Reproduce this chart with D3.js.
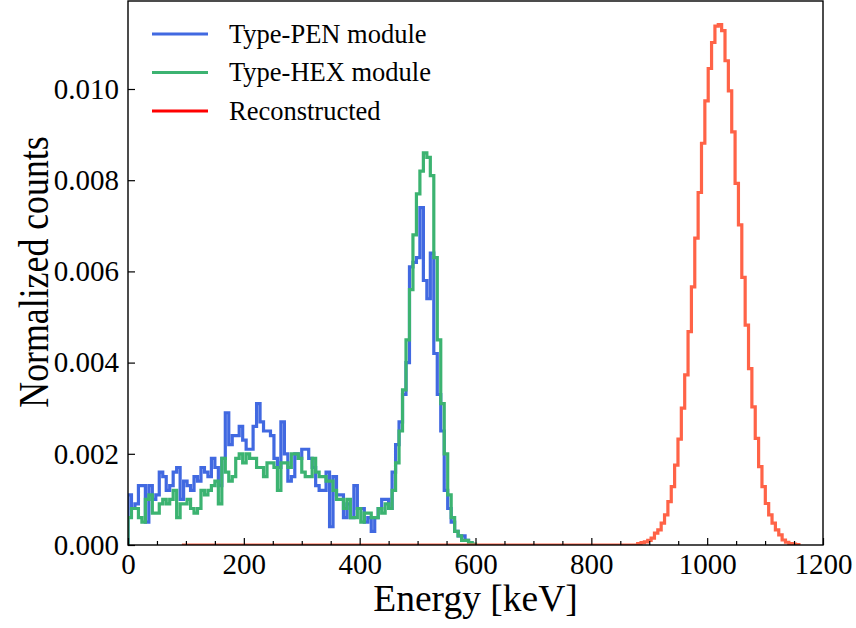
<!DOCTYPE html>
<html>
<head>
<meta charset="utf-8">
<script src="https://cdn.jsdelivr.net/npm/d3@7"></script>
<style>
  body { margin: 0; background: #fff; }
  svg { display: block; font-family: "Liberation Serif", "Times New Roman", serif; }
</style>
</head>
<body>
<svg width="856" height="628"></svg>
<script>
// histogram settings (keV)
const moduleBinWidth = 6;
const recoLow = 93;
const recoStart = 880;
const recoBinWidth = 5.8;

// Type-PEN module, bins 0..600 keV
const penCounts = [
  0.0011, 0.0008, 0.0009, 0.0013, 0.0013, 0.0005, 0.0013, 0.0010, 0.0011, 0.0016,
  0.0015, 0.0012, 0.0013, 0.0016, 0.0017, 0.0010, 0.0014, 0.0013, 0.0012, 0.0015,
  0.0014, 0.0017, 0.0016, 0.0015, 0.0019, 0.0017, 0.0013, 0.0019, 0.0029, 0.0022,
  0.0024, 0.0024, 0.0026, 0.0023, 0.0021, 0.0021, 0.0026, 0.0031, 0.0027, 0.0025,
  0.0025, 0.0024, 0.0019, 0.0017, 0.0027, 0.0020, 0.0014, 0.0015, 0.0020, 0.0019,
  0.0021, 0.0021, 0.0019, 0.0017, 0.0013, 0.0012, 0.0012, 0.0016, 0.0004, 0.0015,
  0.0011, 0.0011, 0.0006, 0.0009, 0.0006, 0.0013, 0.0008, 0.0008, 0.0005, 0.0006,
  0.0003, 0.0006, 0.0008, 0.0010, 0.0010, 0.0008, 0.0016, 0.0022, 0.0027, 0.0033,
  0.0040, 0.0061, 0.0062, 0.0063, 0.0074, 0.0058, 0.0054, 0.0064, 0.0042, 0.0033,
  0.0025, 0.0012, 0.0008, 0.0005, 0.0003, 0.0002, 0.0002, 0.0001, 0.00005, 0
];

// Type-HEX module, bins 0..600 keV
const hexCounts = [
  0.0006, 0.0008, 0.0008, 0.0006, 0.0005, 0.0010, 0.0011, 0.0007, 0.0007, 0.0009,
  0.0010, 0.0009, 0.0010, 0.0012, 0.0006, 0.0009, 0.0009, 0.0010, 0.0008, 0.0007,
  0.0008, 0.0012, 0.0011, 0.0012, 0.0013, 0.0014, 0.0009, 0.0019, 0.0016, 0.0014,
  0.0015, 0.0019, 0.0020, 0.0018, 0.0020, 0.0019, 0.0019, 0.0017, 0.0017, 0.0015,
  0.0018, 0.0018, 0.0017, 0.0012, 0.0018, 0.0018, 0.0017, 0.0020, 0.0020, 0.0019,
  0.0016, 0.0015, 0.0015, 0.0019, 0.0016, 0.0015, 0.0015, 0.0014, 0.0014, 0.0012,
  0.0010, 0.0010, 0.0008, 0.0010, 0.0006, 0.0006, 0.0008, 0.0005, 0.0007, 0.0007,
  0.0006, 0.0006, 0.0008, 0.0007, 0.0009, 0.0008, 0.0012, 0.0018, 0.0025, 0.0034,
  0.0045, 0.0056, 0.0068, 0.0077, 0.0082, 0.0086, 0.0085, 0.0081, 0.0063, 0.0045,
  0.0031, 0.0020, 0.0011, 0.0006, 0.0003, 0.0002, 0.0001, 0.0001, 0.00005, 0.00002
];

// Reconstructed, bins from recoStart
const recoCounts = [
  0.00003, 0.00005, 0.00007, 0.00010, 0.00015, 0.00026, 0.00033, 0.00048, 0.00066, 0.00095,
  0.00128, 0.00175, 0.00232, 0.00300, 0.00373, 0.00468, 0.00566, 0.00673, 0.00773, 0.00881,
  0.00974, 0.01045, 0.01102, 0.01138, 0.01141, 0.01128, 0.01062, 0.00996, 0.00906, 0.00793,
  0.00702, 0.00587, 0.00482, 0.00387, 0.00303, 0.00234, 0.00172, 0.00128, 0.00091, 0.00066,
  0.00048, 0.00033, 0.00022, 0.00011, 0.00006, 0.00003, 0.00002, 0.00001
];

const legendNames = ['Type-PEN module', 'Type-HEX module', 'Reconstructed'];
const legendColors = ['#4169e1', '#3cb371', '#ff0000'];
const lineColors = ['#4169e1', '#3cb371', '#ff6347'];

const xTicks = [0, 200, 400, 600, 800, 1000, 1200];
const xMinorTicks = d3.range(0, 1201, 50);
const yTicks = [0, 0.002, 0.004, 0.006, 0.008, 0.010];

const margin = { top: 1, right: 33, bottom: 83, left: 128 };
const width = 856 - margin.left - margin.right;
const height = 628 - margin.top - margin.bottom;

const svg = d3.select('svg');
const g = svg.append('g')
  .attr('transform', 'translate(' + margin.left + ',' + margin.top + ')');

const xScale = d3.scaleLinear().domain([0, 1200]).range([0, width]);
const yScale = d3.scaleLinear().domain([0, height / 45600]).range([height, 0]);

g.append('clipPath').attr('id', 'plotclip')
  .append('rect').attr('width', width).attr('height', height);

function moduleEdges(n) {
  return d3.range(n + 1).map(i => i * moduleBinWidth);
}

function stepPath(edges, vals) {
  let pts = [[edges[0], 0]];
  vals.forEach((v, i) => {
    pts.push([edges[i], v]);
    pts.push([edges[i + 1], v]);
  });
  pts.push([edges[edges.length - 1], 0]);
  return d3.line()
    .x(d => xScale(d[0]))
    .y(d => yScale(d[1]))(pts);
}

let recoEdges = [recoLow].concat(d3.range(recoCounts.length + 1).map(i => recoStart + i * recoBinWidth));
let recoVals = [0].concat(recoCounts);

const series = [
  { edges: moduleEdges(penCounts.length), vals: penCounts },
  { edges: moduleEdges(hexCounts.length), vals: hexCounts },
  { edges: recoEdges, vals: recoVals }
];

g.append('g').attr('clip-path', 'url(#plotclip)')
  .selectAll('path')
  .data(series)
  .join('path')
  .attr('d', d => stepPath(d.edges, d.vals))
  .attr('fill', 'none')
  .attr('stroke', (d, i) => lineColors[i])
  .attr('stroke-width', 3.2)
  .attr('stroke-linejoin', 'miter');

// axes, ticks pointing in
g.append('g')
  .attr('transform', 'translate(0,' + height + ')')
  .call(d3.axisBottom(xScale).tickValues(xTicks).tickSize(-7).tickPadding(8).tickFormat(d3.format('d')));

g.append('g')
  .attr('transform', 'translate(0,' + height + ')')
  .call(d3.axisBottom(xScale).tickValues(xMinorTicks.filter(v => v % 200 != 0)).tickSize(-4).tickFormat(''));

g.append('g')
  .call(d3.axisLeft(yScale).tickValues(yTicks).tickSize(-7).tickPadding(9).tickFormat(d3.format('.3f')));

svg.selectAll('.tick line').attr('stroke', '#000').attr('stroke-width', 1.2);
svg.selectAll('.domain').remove();
svg.selectAll('.tick text')
  .attr('font-family', '"Liberation Serif", "Times New Roman", serif')
  .attr('font-size', 29)
  .attr('fill', '#000');

// frame
g.append('rect')
  .attr('width', width)
  .attr('height', height)
  .attr('fill', 'none')
  .attr('stroke', '#000')
  .attr('stroke-width', 1.4);

// axis labels
svg.append('text')
  .attr('x', margin.left + width / 2)
  .attr('y', 611)
  .attr('text-anchor', 'middle')
  .attr('font-size', 37.5)
  .text('Energy [keV]');

svg.append('text')
  .attr('transform', 'translate(48,272) rotate(-90) scale(1,1.15)')
  .attr('text-anchor', 'middle')
  .attr('font-size', 35.8)
  .text('Normalized counts');

// legend
const legend = g.append('g').attr('transform', 'translate(24,33)');
const rows = legend.selectAll('g')
  .data(legendNames)
  .join('g')
  .attr('transform', (d, i) => 'translate(0,' + (i * 38.5) + ')');

rows.append('line')
  .attr('x1', 0).attr('x2', 56)
  .attr('stroke', (d, i) => legendColors[i])
  .attr('stroke-width', 3.2);

rows.append('text')
  .attr('x', 77)
  .attr('dy', '0.33em')
  .attr('font-size', 26.5)
  .text(d => d);
</script>
</body>
</html>
